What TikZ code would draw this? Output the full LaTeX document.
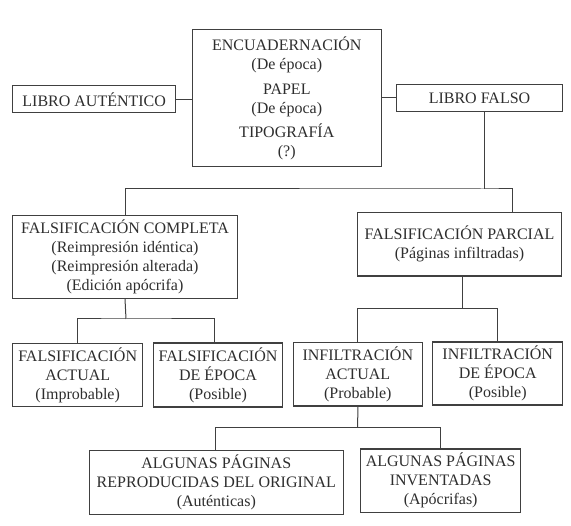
\documentclass[tikz,border=0pt]{standalone}
\usepackage{fontspec}
\setmainfont{Liberation Serif}
\definecolor{ink}{HTML}{2E2E2E}
\definecolor{rule}{HTML}{404040}
\begin{document}
\begin{tikzpicture}[x=1pt,y=-1pt,
  box/.style={draw=rule,line width=1.1pt,inner sep=0pt,align=center,text=ink,
    font=\fontsize{16}{19}\selectfont},
  conn/.style={draw=rule,line width=1pt}]
\useasboundingbox[fill=white] (0,0) rectangle (571,526);
% row 1
\node[box,minimum width=163pt,minimum height=27.3pt] (LA) at (94.2,99.3) {LIBRO AUTÉNTICO};
\node[box,minimum width=189pt,minimum height=136.7pt] (CB) at (286.8,98.3)
  {ENCUADERNACIÓN\\(De época)\\[6pt]PAPEL\\(De época)\\[4.5pt]TIPOGRAFÍA\\(?)};
\node[box,minimum width=165.6pt,minimum height=27.4pt] (LF) at (479.5,98) {LIBRO FALSO};
% row 2
\node[box,minimum width=224.6pt,minimum height=82.6pt] (FC) at (125,257)
  {FALSIFICACIÓN COMPLETA\\(Reimpresión idéntica)\\(Reimpresión alterada)\\(Edición apócrifa)};
\node[box,minimum width=204.4pt,minimum height=63.7pt] (FP) at (459.5,244.2)
  {FALSIFICACIÓN PARCIAL\\(Páginas infiltradas)};
% row 3
\node[box,minimum width=130pt,minimum height=63.4pt] (FA) at (77.7,375)
  {FALSIFICACIÓN\\ACTUAL\\(Improbable)};
\node[box,minimum width=129.4pt,minimum height=64pt] (FE) at (218,375)
  {FALSIFICACIÓN\\DE ÉPOCA\\(Posible)};
\node[box,minimum width=129pt,minimum height=63.7pt] (IA) at (357.8,374.2)
  {INFILTRACIÓN\\ACTUAL\\(Probable)};
\node[box,minimum width=130pt,minimum height=63pt] (IE) at (497.7,373.5)
  {INFILTRACIÓN\\DE ÉPOCA\\(Posible)};
% row 4
\node[box,minimum width=254pt,minimum height=64.3pt] (AR) at (216.3,482.8)
  {ALGUNAS PÁGINAS\\REPRODUCIDAS DEL ORIGINAL\\(Auténticas)};
\node[box,minimum width=160pt,minimum height=63.3pt] (AI) at (440.7,480.7)
  {ALGUNAS PÁGINAS\\INVENTADAS\\(Apócrifas)};
% connectors
\draw[conn] (LA.east) -- (LA.east -| CB.west);
\draw[conn] (CB.east |- LF.west) -- (LF.west);
\coordinate (j1) at (484.3,189);
\draw[conn] (j1 |- LF.south) -- (j1);
\draw[conn] (FC.north) |- (j1) -| ([xshift=-50pt]FP.north east);
\coordinate (j2) at (126,319);
\draw[conn] (FC.south) -- (j2);
\draw[conn] (FA.north) |- (j2) -| ([xshift=-3.7pt]FE.north);
\coordinate (j3) at (462.7,308.3);
\draw[conn] (j3 |- FP.south) -- (j3);
\draw[conn] (IA.north) |- (j3) -| (IE.north);
\coordinate (j4) at (357.7,427.5);
\draw[conn] (IA.south) -- (j4);
\draw[conn] ([xshift=-1.3pt]AR.north) |- (j4) -| (AI.north);
\end{tikzpicture}
\end{document}
